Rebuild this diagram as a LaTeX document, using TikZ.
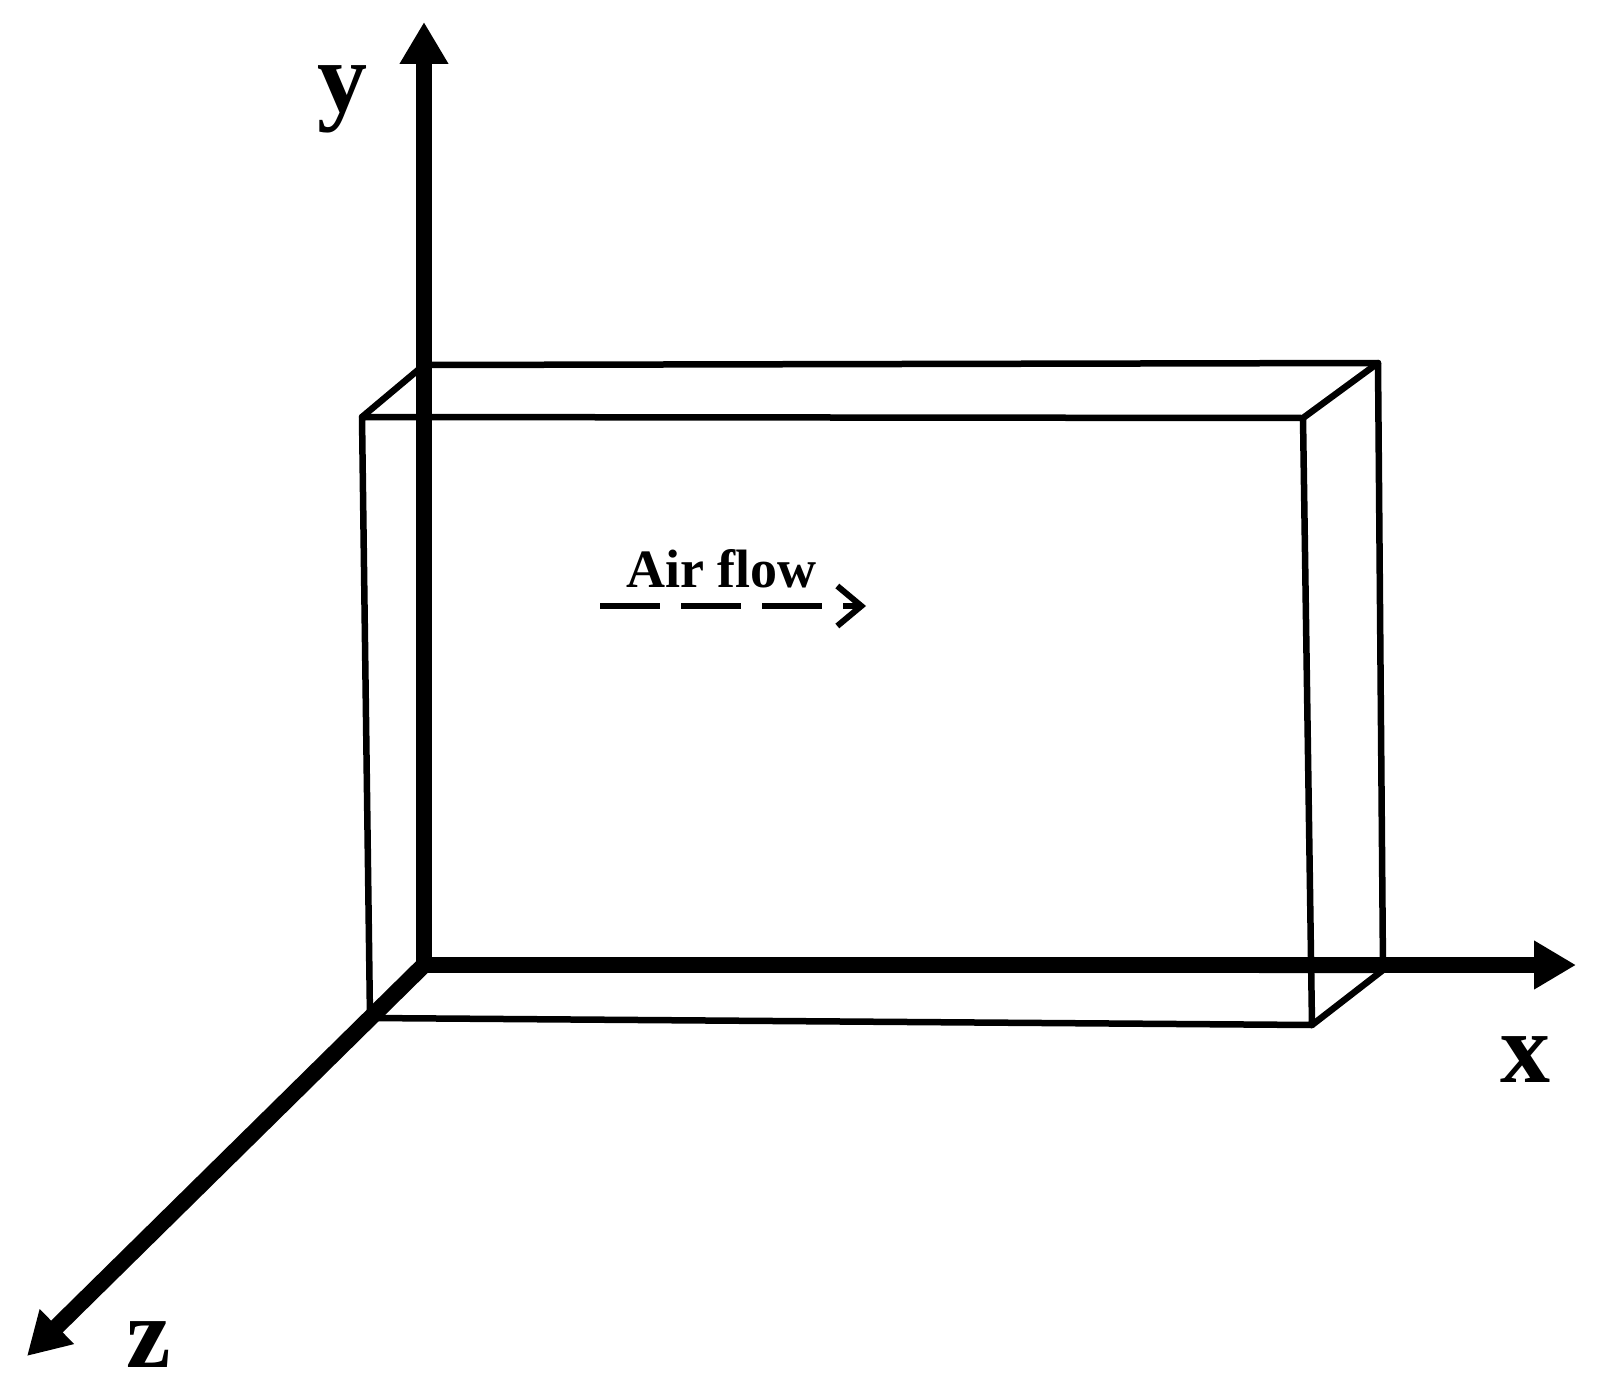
\documentclass[tikz,border=0pt]{standalone}
\usepackage{fontspec}
\setmainfont{Liberation Serif}
\usetikzlibrary{arrows.meta}
\tikzset{
  boxline/.style={line width=6.5pt, line join=round, line cap=round},
  axisline/.style={line width=16.5pt, -{Triangle[length=42pt,width=46pt]}},
  axislabel/.style={font=\fontsize{100}{100}\selectfont\bfseries, inner sep=0pt, anchor=base},
  flowline/.style={line width=6pt, dash pattern=on 60pt off 21pt, -{Straight Barb[length=24pt,width=40pt,line width=6pt]}},
  flowlabel/.style={font=\fontsize{54}{54}\selectfont\bfseries, inner sep=0pt, anchor=base west}
}
\begin{document}
\begin{tikzpicture}[x=1pt,y=-1pt]
\useasboundingbox (0,0) rectangle (1599,1386);
% box corners
\coordinate (ftl) at (362,417);
\coordinate (ftr) at (1303,418);
\coordinate (fbr) at (1312,1025);
\coordinate (fbl) at (370,1018);
\coordinate (btl) at (424,365);
\coordinate (btr) at (1378,363);
\coordinate (bbr) at (1383,970);
\coordinate (bbl) at (424,968);
% box edges
\draw[boxline] (ftl) -- (ftr) -- (fbr) -- (fbl) -- cycle;
\draw[boxline] (btl) -- (btr) -- (bbr) -- (bbl) -- cycle;
\draw[boxline] (ftl) -- (btl);
\draw[boxline] (ftr) -- (btr);
\draw[boxline] (fbr) -- (bbr);
\draw[boxline] (fbl) -- (bbl);
% axes
\coordinate (o) at (424,965);
\coordinate (ytip) at (424,22);
\coordinate (xtip) at (1576,965);
\coordinate (ztip) at (27,1356);
\draw[axisline] (o) -- (ytip);
\draw[axisline] (o) -- (xtip);
\draw[axisline] (o) -- (ztip);
\fill (o) circle (8.2pt);
% labels
\node[axislabel] (ylab) at (342,112) {y};
\node[axislabel] (xlab) at (1525,1082) {x};
\node[axislabel] (zlab) at (149,1367) {z};
% air flow
\node[flowlabel] (flowtxt) at (626,587) {Air flow};
\coordinate (fs) at (600,606);
\coordinate (fe) at (866,606);
\draw[flowline] (fs) -- (fe);
\end{tikzpicture}
\end{document}
